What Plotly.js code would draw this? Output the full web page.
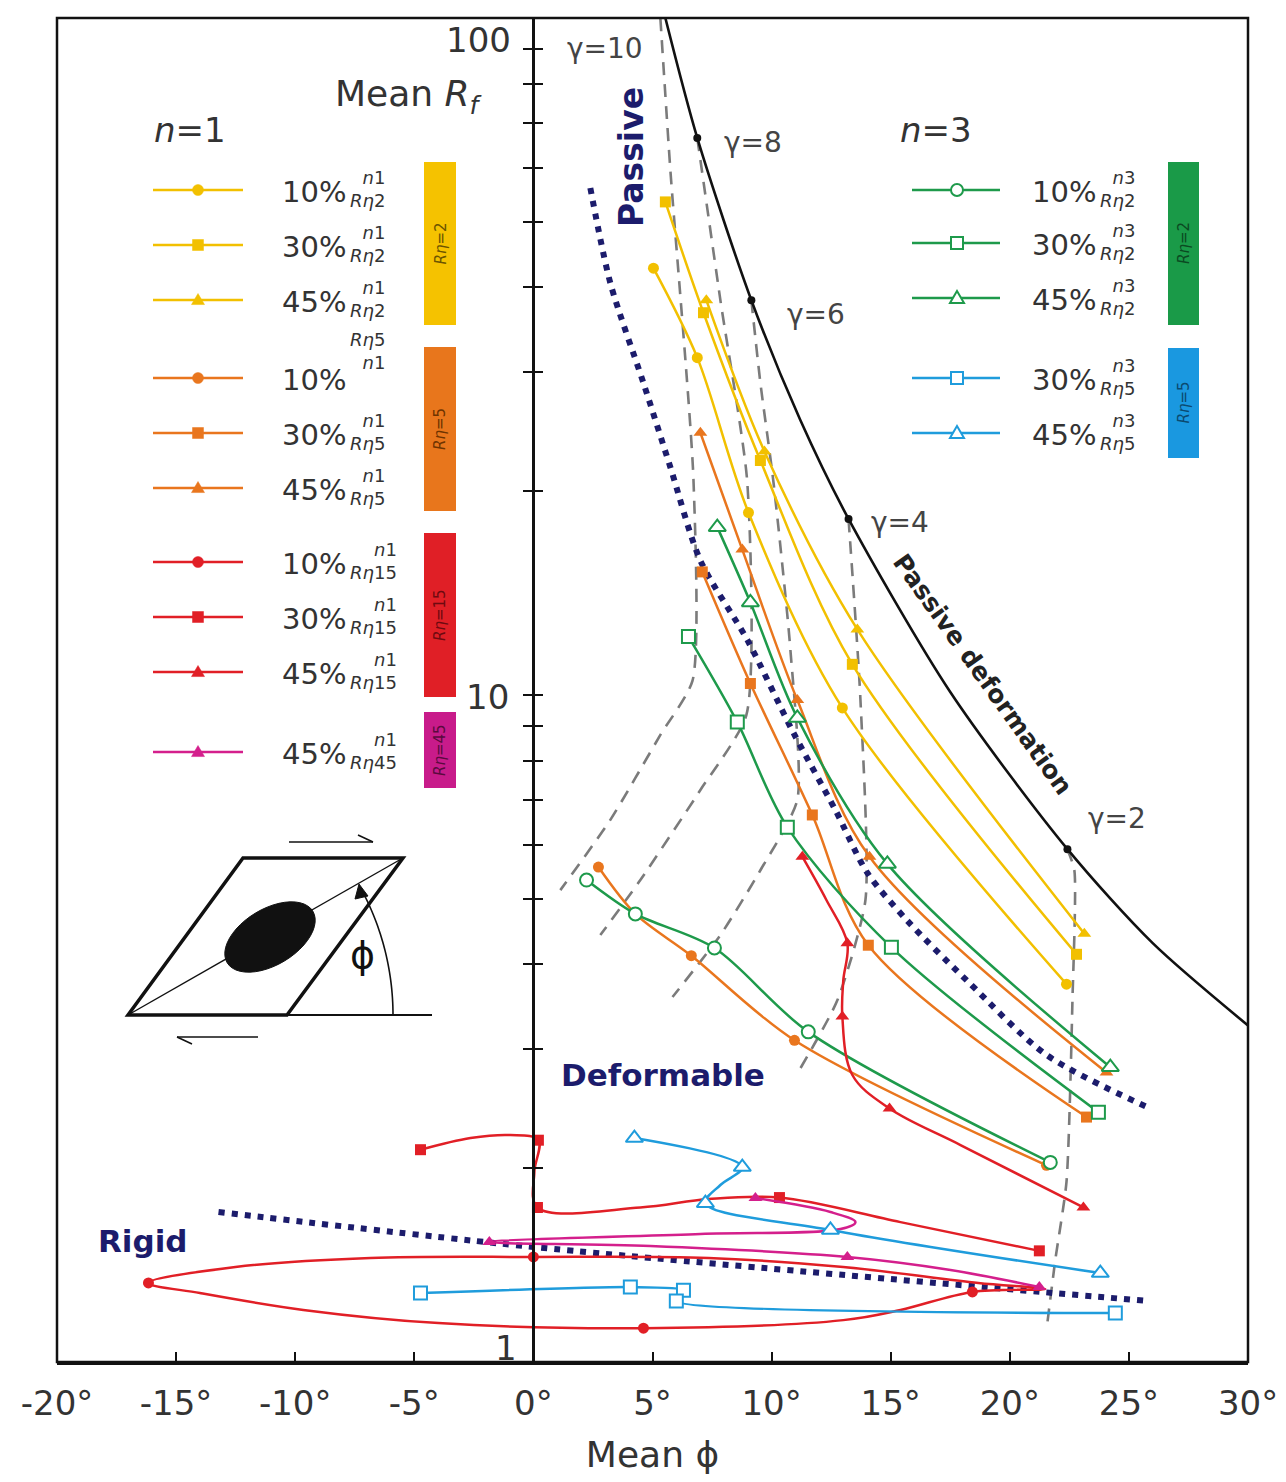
<!DOCTYPE html>
<html><head><meta charset="utf-8">
<script src="https://cdn.plot.ly/plotly-3.0.1.min.js"></script>
<style>html,body{margin:0;padding:0;background:#fff}#chart{width:1286px;height:1482px}</style>
</head><body><div id="chart"></div>
<script>
// ---------------- DATA (Mean phi in degrees, Mean Rf) ----------------
const xTickVals = [-20,-15,-10,-5,0,5,10,15,20,25,30];
const xTickText = ['-20°','-15°','-10°','-5°','0°','5°','10°','15°','20°','25°','30°'];
const yTickVals = [1,2,3,4,5,6,7,8,9,10,20,30,40,50,60,70,80,90,100];
const yLabelText = ['100','10','1'];

// passive deformation curve and gamma points on it
const passivePhi = [5.54,6.88,9.15,11.2,13.23,17.5,22.42,26.0,30.0];
const passiveRf  = [100,66.5,38.3,25.5,18.2,10.1,5.92,4.3,3.25];
const gammaPhi = [6.88,9.15,13.23,22.42];
const gammaRf  = [66.5,38.3,18.2,5.92];
const gammaText = ['γ=10','γ=8','γ=6','γ=4','γ=2'];

// dashed iso-gamma lines
const g10Phi = [5.33,5.75,6.72,6.68,5.33,3.23,1.13];
const g10Rf  = [100,59.6,20.8,10.5,8.73,6.54,5.15];
const g8Phi  = [6.88,7.85,8.98,8.94,7.01,4.49,2.81];
const g8Rf   = [66.5,38.3,20.6,9.34,7.24,5.33,4.42];
const g6Phi  = [9.15,9.53,10.08,10.79,11.08,9.53,7.85,5.84];
const g6Rf   = [38.3,28.9,20.6,11.65,7.0,5.51,4.42,3.58];
const g4Phi  = [13.23,13.73,13.94,12.76,11.21];
const g4Rf   = [18.2,9.83,4.98,3.54,2.81];
const g2Phi  = [22.42,22.71,22.63,22.38,21.91,21.54];
const g2Rf   = [5.92,5.51,3.54,1.909,1.464,1.153];

// dotted boundaries
const passBoundPhi = [2.39,3.23,4.62,5.75,7.01,8.98,10.92,12.68,14.02,15.70,18.22,21.54,25.90];
const passBoundRf  = [56.1,40.6,28.9,21.7,15.8,12.06,8.79,6.76,5.46,4.64,3.78,2.94,2.45];
const rigidBoundPhi = [-13.22,0.0,25.82];
const rigidBoundRf  = [1.723,1.53,1.273];

// n=1, Rn=2 (yellow)
const y10Phi = [5.04,6.88,9.03,12.97,22.38];  const y10Rf = [42.7,31.5,18.6,9.57,3.74];
const y30Phi = [5.54,7.14,9.53,13.39,22.80];  const y30Rf = [53.5,36.7,22.2,11.1,4.14];
const y45Phi = [7.26,9.70,13.60,23.13];       const y45Rf = [38.3,22.9,12.5,4.44];
// n=1, Rn=5 (orange)
const o10Phi = [2.73,4.28,6.63,10.96,21.54];  const o10Rf = [5.57,4.75,4.12,3.09,2.02];
const o30Phi = [7.09,9.11,11.71,14.06,23.22]; const o30Rf = [15.2,10.4,6.65,4.27,2.38];
const o45Phi = [7.01,8.77,11.08,14.11,24.06]; const o45Rf = [24.4,16.4,9.83,5.77,2.77];
// n=1, Rn=15 (red)  path + marker points
const r10Phi = [21.49,18.43,15.41,13.01,4.62,-3.99,-9.66,-14.0,-16.16,-12.51,-6.84,0.0,7.35,13.01,18.68,21.49];
const r10Rf  = [1.326,1.313,1.235,1.193,1.161,1.181,1.235,1.308,1.354,1.429,1.474,1.479,1.474,1.429,1.354,1.326];
const r10MPhi = [18.43,4.62,-16.16,0.0];  const r10MRf = [1.313,1.161,1.354,1.479];
const r30Phi = [-4.74,-2.64,-0.97,0.21,0.04,0.17,4.49,7.35,10.33,15.41,21.24];
const r30Rf  = [2.13,2.216,2.239,2.20,1.974,1.75,1.75,1.801,1.81,1.665,1.51];
const r30MPhi = [-4.74,0.21,0.17,10.33,21.24]; const r30MRf = [2.13,2.20,1.75,1.81,1.51];
const r45Phi = [11.29,12.30,13.18,13.01,12.97,13.39,14.95,17.93,23.09];
const r45Rf  = [5.77,4.98,4.30,3.79,3.35,2.746,2.45,2.164,1.75];
const r45MPhi = [11.29,13.18,12.97,14.95,23.09]; const r45MRf = [5.77,4.30,3.35,2.45,1.75];
// n=1, Rn=45 (magenta)
const m45Phi = [9.32,12.47,13.52,12.89,7.01,-1.85,4.91,13.18,17.51,21.24];
const m45Rf  = [1.807,1.723,1.665,1.626,1.599,1.556,1.535,1.479,1.415,1.335];
const m45MPhi = [9.32,-1.85,13.18,21.24]; const m45MRf = [1.807,1.556,1.479,1.335];
// n=3, Rn=2 (green)
const gr10Phi = [2.23,4.28,7.60,11.54,21.70];  const gr10Rf = [5.33,4.75,4.23,3.18,2.04];
const gr30Phi = [6.51,8.56,10.66,15.03,23.72]; const gr30Rf = [12.2,9.12,6.38,4.24,2.42];
const gr45Phi = [7.72,9.11,11.08,14.86,24.22]; const gr45Rf = [17.7,13.7,9.25,5.63,2.82];
// n=3, Rn=5 (blue)
const b30Phi = [-4.74,4.07,6.30,6.00,24.43]; const b30Rf = [1.308,1.335,1.321,1.273,1.222];
const b45Phi = [4.24,8.77,7.85,7.22,12.47,23.80]; const b45Rf = [2.216,2.008,1.889,1.776,1.621,1.400];
const b45MPhi = [4.24,8.77,7.22,12.47,23.80]; const b45MRf = [2.216,2.008,1.776,1.621,1.400];

// legend texts
const n1Pct = ['10%','30%','45%','10%','30%','45%','10%','30%','45%','45%'];
const n1Sub = ['2','2','2','5','5','5','15','15','15','45'];
const n3Pct = ['10%','30%','45%','30%','45%'];
const n3Sub = ['2','2','2','5','5'];
const n1Bars = ['2','5','15','45'];
const n3Bars = ['2','5'];

// ---------------- STYLE ----------------
const YEL='#f2c000', ORA='#e9761e', RED='#e11f26', MAG='#d41f8c', GRN='#1e9a4b', BLU='#1f9cdc';
const NAVY='#1c1c6c', GREY='#7b7b7b', TXT='#333333';
const FONT='DejaVu Sans, Liberation Sans, Arial, sans-serif';
const L=57,R=1248,T=18,B=1362;
const PX=p=>(p-L)/(R-L), PY=p=>(B-p)/(B-T);
const LW=2.5;

const traces=[];
function line(x,y,color,width,dash,smooth){
  traces.push({x,y,mode:'lines',type:'scatter',hoverinfo:'skip',
    line:{color,width,dash:dash||'solid',shape:smooth?'spline':'linear',smoothing:smooth||0}});
}
function marks(x,y,color,sym,open,size){
  traces.push({x,y,mode:'markers',type:'scatter',hoverinfo:'skip',
    marker:{symbol:sym,size:size,color:open?'#ffffff':color,line:{color:color,width:open?2:0}}});
}
// guides
[[g10Phi,g10Rf],[g8Phi,g8Rf],[g6Phi,g6Rf],[g4Phi,g4Rf],[g2Phi,g2Rf]].forEach(([a,b])=>line(a,b,GREY,2.6,'13px,9px',0.6));
line(passBoundPhi,passBoundRf,NAVY,6,'6px,7px',0.8);
line(rigidBoundPhi,rigidBoundRf,NAVY,6,'6px,7px',0.8);
line(passivePhi,passiveRf,'#111',2.6,null,0.8);
marks(gammaPhi,gammaRf,'#111','circle',false,8);

const SM=0.9;
[[y10Phi,y10Rf,'circle',11],[y30Phi,y30Rf,'square',11],[y45Phi,y45Rf,'triangle-up',12]].forEach(([a,b,s,z])=>{line(a,b,YEL,LW,null,SM);marks(a,b,YEL,s,false,z);});
[[o10Phi,o10Rf,'circle',11],[o30Phi,o30Rf,'square',11],[o45Phi,o45Rf,'triangle-up',12]].forEach(([a,b,s,z])=>{line(a,b,ORA,LW,null,SM);marks(a,b,ORA,s,false,z);});
[[gr10Phi,gr10Rf,'circle',13],[gr30Phi,gr30Rf,'square',13],[gr45Phi,gr45Rf,'triangle-up',15]].forEach(([a,b,s,z])=>{line(a,b,GRN,LW,null,SM);marks(a,b,GRN,s,true,z);});
line(r10Phi,r10Rf,RED,LW,null,1.0); marks(r10MPhi,r10MRf,RED,'circle',false,11);
line(r30Phi,r30Rf,RED,LW,null,1.0); marks(r30MPhi,r30MRf,RED,'square',false,11);
line(r45Phi,r45Rf,RED,LW,null,1.0); marks(r45MPhi,r45MRf,RED,'triangle-up',false,12);
line(m45Phi,m45Rf,MAG,LW,null,1.0); marks(m45MPhi,m45MRf,MAG,'triangle-up',false,12);
line(b30Phi,b30Rf,BLU,LW,null,0.6); marks(b30Phi,b30Rf,BLU,'square',true,13);
line(b45Phi,b45Rf,BLU,LW,null,1.0); marks(b45MPhi,b45MRf,BLU,'triangle-up',true,15);
traces.push({x:[null],y:[null],yaxis:'y2',mode:'lines',hoverinfo:'skip'});

// ---------------- DECORATION ----------------
const shapes=[], ann=[];
shapes.push({type:'rect',xref:'paper',yref:'paper',x0:0,x1:1,y0:0,y1:1,line:{color:'#111',width:2.5}});
function txt(text,px,py,size,o){
  ann.push(Object.assign({text,x:PX(px),y:PY(py),xref:'paper',yref:'paper',showarrow:false,
    xanchor:'center',yanchor:'middle',borderpad:0,font:{family:FONT,size,color:TXT}},o||{}));
}
function pline(x0,y0,x1,y1,color,width){
  shapes.push({type:'line',xref:'paper',yref:'paper',x0:PX(x0),y0:PY(y0),x1:PX(x1),y1:PY(y1),line:{color,width}});
}
function ppath(pts,close,fill,color,width){
  const p=pts.map((q,k)=>(k?'L':'M')+PX(q[0])+','+PY(q[1])).join(' ')+(close?' Z':'');
  const s={type:'path',xref:'paper',yref:'paper',path:p,line:{color,width}};
  if(fill) s.fillcolor=fill;
  shapes.push(s);
}
function legMark(px,py,sym,color,open){
  const fill=open?'#ffffff':color, lw=open?2:0.5;
  if(sym==='circle'){const r=open?6:5.5;shapes.push({type:'circle',xref:'paper',yref:'paper',x0:PX(px-r),x1:PX(px+r),y0:PY(py+r),y1:PY(py-r),fillcolor:fill,line:{color,width:lw}});}
  else if(sym==='square'){const r=open?6:5.5;shapes.push({type:'rect',xref:'paper',yref:'paper',x0:PX(px-r),x1:PX(px+r),y0:PY(py+r),y1:PY(py-r),fillcolor:fill,line:{color,width:lw}});}
  else {const r=open?7:6.5;ppath([[px,py-r],[px+r,py+r*0.7],[px-r,py+r*0.7]],true,fill,color,lw);}
}
// left legend (n=1)
const n1Rows=[190,245,300,378,433,488,562,617,672,752];
const n1Col=[YEL,YEL,YEL,ORA,ORA,ORA,RED,RED,RED,MAG];
const n1Sym=['circle','square','tri','circle','square','tri','circle','square','tri','tri'];
n1Rows.forEach((y,i)=>{
  pline(153,y,243,y,n1Col[i],LW); legMark(198,y,n1Sym[i],n1Col[i],false);
  txt(n1Pct[i],347,y+2,29,{xanchor:'right'});
  if(i===3) txt('<i>R</i><i>η</i>'+n1Sub[i]+'<br><i>n</i>1',349,y-27,18,{xanchor:'left',align:'right'});
  else txt('<i>n</i>1<br><i>R</i><i>η</i>'+n1Sub[i],349,y-1,18,{xanchor:'left',align:'right'});
});
// right legend (n=3)
const n3Rows=[190,243,298,378,433];
const n3Col=[GRN,GRN,GRN,BLU,BLU];
const n3Sym=['circle','square','tri','square','tri'];
n3Rows.forEach((y,i)=>{
  pline(912,y,1000,y,n3Col[i],LW); legMark(957,y,n3Sym[i],n3Col[i],true);
  txt(n3Pct[i],1097,y+2,29,{xanchor:'right'});
  txt('<i>n</i>3<br><i>R</i><i>η</i>'+n3Sub[i],1099,y-1,18,{xanchor:'left',align:'right'});
});
// colour bars
function bar(x0,x1,y0,y1,color,label,tc){
  shapes.push({type:'rect',xref:'paper',yref:'paper',x0:PX(x0),x1:PX(x1),y0:PY(y1),y1:PY(y0),fillcolor:color,line:{width:0}});
  txt('<i>R</i><i>η</i>='+label,(x0+x1)/2,(y0+y1)/2,15,{textangle:-90,font:{family:FONT,size:15,color:tc}});
}
bar(424,456,162,325,'#f5c200',n1Bars[0],'#6b5400');
bar(424,456,347,511,'#e8761c',n1Bars[1],'#6e3300');
bar(424,456,533,697,'#e01f26',n1Bars[2],'#6e0a10');
bar(424,456,712,788,'#c81b8a',n1Bars[3],'#5a0a3e');
bar(1168,1199,162,325,'#1a9a48',n3Bars[0],'#0b4a22');
bar(1168,1199,348,458,'#1a98e0',n3Bars[1],'#0b4a70');

// texts
txt('<i>n</i>=1',190,130,34);
txt('<i>n</i>=3',936,130,34);
txt('Mean <i>R</i><sub><i>f</i></sub>',484,97,36,{xanchor:'right'});
txt(yLabelText[0],512,40,34,{xanchor:'right'});
txt(yLabelText[1],510,697,34,{xanchor:'right'});
txt(yLabelText[2],518,1348,34,{xanchor:'right'});
const GF={family:FONT,size:28,color:'#444'};
txt(gammaText[0],605,48,28,{font:GF});
txt(gammaText[1],753,143,28,{font:GF});
txt(gammaText[2],816,314,28,{font:GF});
txt(gammaText[3],900,522,28,{font:GF});
txt(gammaText[4],1117,818,28,{font:GF});
txt('<b>Passive</b>',631,157,33,{textangle:-90,font:{family:FONT,size:33,color:NAVY}});
txt('<b>Passive deformation</b>',983,674,25,{textangle:54.5,font:{family:FONT,size:25,color:'#222'}});
txt('<b>Deformable</b>',663,1075,31,{font:{family:FONT,size:31,color:NAVY}});
txt('<b>Rigid</b>',143,1241,31,{font:{family:FONT,size:31,color:NAVY}});

// inset sketch
ppath([[128,1015],[287,1015],[403,858],[243,858]],true,null,'#111',3.5);
pline(287,1015,432,1015,'#111',2);
pline(128,1015,403,858,'#111',1.4);
(function(){
  const cx=270,cy=937,a=50,b=28,al=31*Math.PI/180; const e=[];
  for(let k=0;k<48;k++){const t=k/48*2*Math.PI;
    e.push([cx+a*Math.cos(t)*Math.cos(al)-b*Math.sin(t)*Math.sin(al),
            cy-(a*Math.cos(t)*Math.sin(al)+b*Math.sin(t)*Math.cos(al))]);}
  ppath(e,true,'#111','#111',1);
  const arc=[];
  for(let k=0;k<=30;k++){const t=k/30*28*Math.PI/180; arc.push([128+265*Math.cos(t),1015-265*Math.sin(t)]);}
  ppath(arc,false,null,'#111',1.6);
  ppath([[359,884],[355,899],[368,896]],true,'#111','#111',1);
})();
pline(289,842,373,842,'#111',1.6); pline(373,842,358,835,'#111',1.6);
pline(177,1037,258,1037,'#111',1.6); pline(177,1037,192,1044,'#111',1.6);
txt('ϕ',362,955,38,{font:{family:FONT,size:38,color:'#111'}});

const yCommon={type:'log',range:[0.0148,2.0],anchor:'free',position:0.4,tickvals:yTickVals,
  showticklabels:false,ticklen:9,tickwidth:2,tickcolor:'#111',showgrid:false,zeroline:false,fixedrange:true};
const layout={
  width:1286,height:1482,margin:{l:57,r:38,t:18,b:120},
  paper_bgcolor:'#fff',plot_bgcolor:'#fff',showlegend:false,
  font:{family:FONT,color:TXT},
  xaxis:{range:[-20,30],tickvals:xTickVals,ticktext:xTickText,ticks:'inside',ticklen:10,tickwidth:2,
    tickcolor:'#111',showline:true,linecolor:'#111',linewidth:2.5,showgrid:false,zeroline:false,
    tickfont:{family:FONT,size:34,color:TXT},ticklabelstandoff:10,anchor:'y',fixedrange:true,
    title:{text:'Mean ϕ',font:{family:FONT,size:36,color:TXT},standoff:20}},
  yaxis:Object.assign({},yCommon,{ticks:'outside',showline:true,linecolor:'#111',linewidth:2.5}),
  yaxis2:Object.assign({},yCommon,{ticks:'inside',overlaying:'y',showline:false}),
  shapes,annotations:ann
};
Plotly.newPlot('chart',traces,layout,{staticPlot:true,displayModeBar:false});
</script></body></html>
